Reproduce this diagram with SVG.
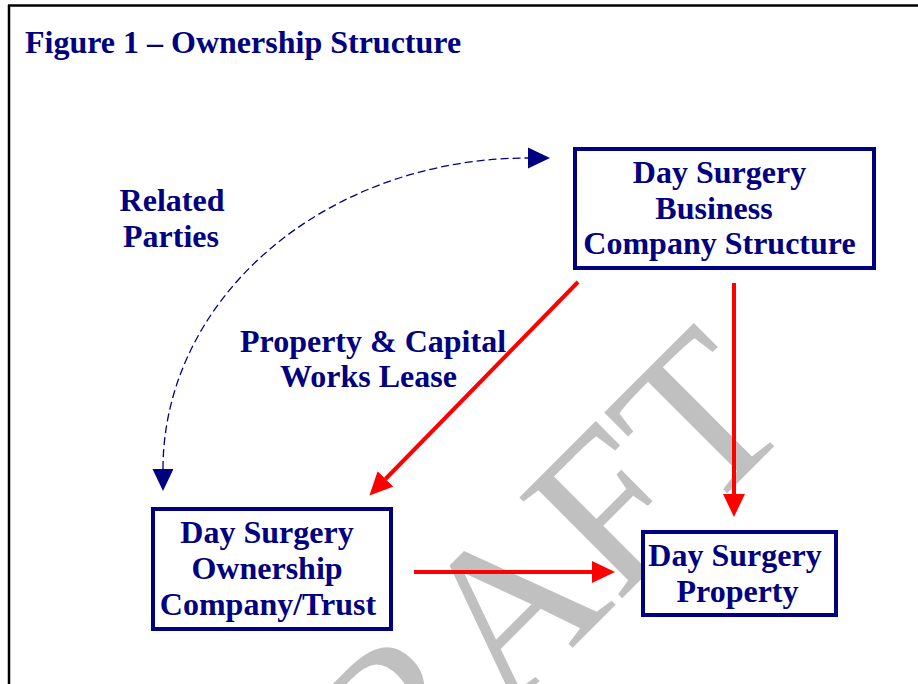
<svg xmlns="http://www.w3.org/2000/svg" width="918" height="684" viewBox="0 0 918 684">
<style>
.t{font-family:"Liberation Serif","Times New Roman",serif;font-weight:bold;fill:#000080;font-size:32px;text-anchor:middle}
.box{fill:#ffffff;stroke:#000080;stroke-width:4}
.red{stroke:#ff0000;stroke-width:4;fill:none}
</style>
<defs>
<marker id="rh" markerUnits="userSpaceOnUse" markerWidth="24" markerHeight="22" refX="0" refY="11" orient="auto">
<path d="M0,0 L23,11 L0,22 z" fill="#ff0000"/>
</marker>
<marker id="nh" markerUnits="userSpaceOnUse" markerWidth="23" markerHeight="22" refX="0" refY="10.5" orient="auto-start-reverse">
<path d="M0,0 L22,10.5 L0,21 z" fill="#000080"/>
</marker>
</defs>
<rect width="918" height="684" fill="#ffffff"/>
<text id="watermark" transform="rotate(-45)" x="266" y="863" text-anchor="end" font-family="Liberation Serif,'Times New Roman',serif" font-size="220" fill="#c0c0c0">DRAFT</text>
<g id="frame" stroke="#000" stroke-width="2.5" fill="none">
<line x1="8" y1="5.5" x2="918" y2="5.5"/>
<line x1="9" y1="5" x2="9" y2="684"/>
</g>
<text id="title" class="t" x="25" y="53" style="text-anchor:start">Figure 1 – Ownership Structure</text>
<g id="connectors">
<path d="M163,469 A365,311 0 0 1 528,158" fill="none" stroke="#000080" stroke-width="1.3" stroke-dasharray="8 4" marker-start="url(#nh)" marker-end="url(#nh)"/>
<line class="red" x1="578" y1="282" x2="385.5" y2="479" marker-end="url(#rh)"/>
<line class="red" x1="734" y1="283" x2="734" y2="494" marker-end="url(#rh)"/>
<line class="red" x1="414" y1="572" x2="592" y2="572" marker-end="url(#rh)"/>
</g>
<g id="label-related">
<text class="t" x="172" y="211">Related</text>
<text class="t" x="171" y="247">Parties</text>
</g>
<g id="label-lease">
<text class="t" x="373" y="352">Property &amp; Capital</text>
<text class="t" x="368.5" y="387">Works Lease</text>
</g>
<g id="node-business">
<rect class="box" x="575" y="149" width="299" height="119"/>
<text class="t" x="719.5" y="183">Day Surgery</text>
<text class="t" x="714" y="219">Business</text>
<text class="t" x="719.5" y="254">Company Structure</text>
</g>
<g id="node-ownership">
<rect class="box" x="153" y="509" width="238" height="120"/>
<text class="t" x="267" y="543">Day Surgery</text>
<text class="t" x="267" y="579">Ownership</text>
<text class="t" x="268" y="615">Company/Trust</text>
</g>
<g id="node-property">
<rect class="box" x="643" y="532" width="193" height="83"/>
<text class="t" x="735" y="566">Day Surgery</text>
<text class="t" x="737.5" y="602">Property</text>
</g>
</svg>
